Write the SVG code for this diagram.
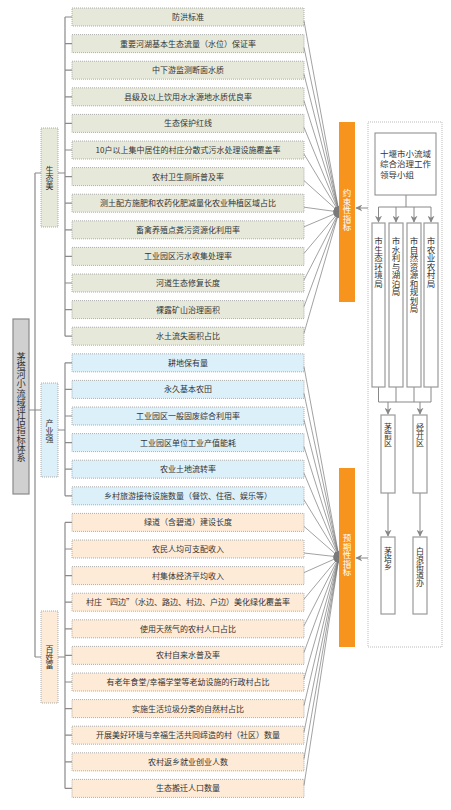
<svg xmlns="http://www.w3.org/2000/svg" width="451" height="810" viewBox="0 0 451 810">
<defs>
<style>
text{font-family:"Noto Sans CJK SC","Liberation Sans",sans-serif;fill:#333;}
.row{font-size:8px;text-anchor:middle;}
.eco{fill:#e6e9d9;stroke:#9a9a9a;stroke-width:0.8;stroke-dasharray:1 1;}
.ind{fill:#dcf0fa;stroke:#9a9a9a;stroke-width:0.8;stroke-dasharray:1 1;}
.wea{fill:#fdebd8;stroke:#9a9a9a;stroke-width:0.8;stroke-dasharray:1 1;}
.br{fill:none;stroke:#8a8a8a;stroke-width:1.2;}
.vt{writing-mode:vertical-rl;text-anchor:middle;}
.vs{writing-mode:vertical-rl;text-anchor:start;}
.con line{stroke:#7a7a7a;stroke-width:0.7;marker-end:url(#ah);}
.org{fill:#f7941d;}
.ow{fill:#fff;font-size:8.5px;}
.bx{fill:#fff;stroke:#9a9a9a;stroke-width:1.2;}
.ar{stroke:#888;stroke-width:1;fill:none;}
.ld{font-size:8.5px;}
</style>
<marker id="ah" viewBox="0 0 10 10" refX="9" refY="5" markerWidth="6" markerHeight="6" markerUnits="userSpaceOnUse" orient="auto"><path d="M0,0 L10,5 L0,10 z" fill="#7a7a7a"/></marker>
<marker id="ab" viewBox="0 0 10 10" refX="9" refY="5" markerWidth="7" markerHeight="7" markerUnits="userSpaceOnUse" orient="auto"><path d="M0,0 L10,5 L0,10 L3,5 z" fill="#888"/></marker>
</defs>
<rect width="451" height="810" fill="#fff"/>

<!-- brackets -->
<g id="brackets">
<path class="br" d="M65,17 V336.2 M65,17 H72 M65,43.6 H72 M65,70.2 H72 M65,96.8 H72 M65,123.4 H72 M65,150 H72 M65,176.6 H72 M65,203.2 H72 M65,229.8 H72 M65,256.4 H72 M65,283 H72 M65,309.6 H72 M65,336.2 H72"/>
<path class="br" d="M65,362.8 V495.8 M65,362.8 H72 M65,389.4 H72 M65,416 H72 M65,442.6 H72 M65,469.2 H72 M65,495.8 H72"/>
<path class="br" d="M65,522.4 V788.4 M65,522.4 H72 M65,549 H72 M65,575.6 H72 M65,602.2 H72 M65,628.8 H72 M65,655.4 H72 M65,682 H72 M65,708.6 H72 M65,735.2 H72 M65,761.8 H72 M65,788.4 H72"/>
<path class="br" d="M58,173 H65 M58,430 H65 M58,657 H65"/>
<path class="br" d="M35,173 V657 M35,173 H41 M29,410 H41 M35,657 H41"/>
</g>

<g id="root"><rect x="13" y="319" width="16" height="175" fill="#d0d0d0" stroke="#8a8a8a" stroke-width="1.2"/><text class="vt" x="21" y="407" font-size="9.2">茅塔河小流域评估指标体系</text></g>
<g id="cat-eco"><rect x="41" y="128" width="17" height="99" class="eco"/><text class="vt" x="49.5" y="178" font-size="8">生态美</text></g>
<g id="cat-ind"><rect x="41" y="383" width="17" height="94" class="ind"/><text class="vt" x="49.5" y="431" font-size="8">产业强</text></g>
<g id="cat-wea"><rect x="41" y="611" width="17" height="92" class="wea"/><text class="vt" x="49.5" y="657" font-size="8">百姓富</text></g>

<g id="r0"><rect class="eco" x="72" y="8" width="232" height="18"/><text class="row" x="188" y="20">防洪标准</text></g>
<g id="r1"><rect class="eco" x="72" y="34.6" width="232" height="18"/><text class="row" x="188" y="46.6">重要河湖基本生态流量（水位）保证率</text></g>
<g id="r2"><rect class="eco" x="72" y="61.2" width="232" height="18"/><text class="row" x="188" y="73.2">中下游监测断面水质</text></g>
<g id="r3"><rect class="eco" x="72" y="87.8" width="232" height="18"/><text class="row" x="188" y="99.8">县级及以上饮用水水源地水质优良率</text></g>
<g id="r4"><rect class="eco" x="72" y="114.4" width="232" height="18"/><text class="row" x="188" y="126.4">生态保护红线</text></g>
<g id="r5"><rect class="eco" x="72" y="141" width="232" height="18"/><text class="row" x="188" y="153">10户以上集中居住的村庄分散式污水处理设施覆盖率</text></g>
<g id="r6"><rect class="eco" x="72" y="167.6" width="232" height="18"/><text class="row" x="188" y="179.6">农村卫生厕所普及率</text></g>
<g id="r7"><rect class="eco" x="72" y="194.2" width="232" height="18"/><text class="row" x="188" y="206.2">测土配方施肥和农药化肥减量化农业种植区域占比</text></g>
<g id="r8"><rect class="eco" x="72" y="220.8" width="232" height="18"/><text class="row" x="188" y="232.8">畜禽养殖点粪污资源化利用率</text></g>
<g id="r9"><rect class="eco" x="72" y="247.4" width="232" height="18"/><text class="row" x="188" y="259.4">工业园区污水收集处理率</text></g>
<g id="r10"><rect class="eco" x="72" y="274" width="232" height="18"/><text class="row" x="188" y="286">河道生态修复长度</text></g>
<g id="r11"><rect class="eco" x="72" y="300.6" width="232" height="18"/><text class="row" x="188" y="312.6">裸露矿山治理面积</text></g>
<g id="r12"><rect class="eco" x="72" y="327.2" width="232" height="18"/><text class="row" x="188" y="339.2">水土流失面积占比</text></g>
<g id="r13"><rect class="ind" x="72" y="353.8" width="232" height="18"/><text class="row" x="188" y="365.8">耕地保有量</text></g>
<g id="r14"><rect class="ind" x="72" y="380.4" width="232" height="18"/><text class="row" x="188" y="392.4">永久基本农田</text></g>
<g id="r15"><rect class="ind" x="72" y="407" width="232" height="18"/><text class="row" x="188" y="419">工业园区一般固废综合利用率</text></g>
<g id="r16"><rect class="ind" x="72" y="433.6" width="232" height="18"/><text class="row" x="188" y="445.6">工业园区单位工业产值能耗</text></g>
<g id="r17"><rect class="ind" x="72" y="460.2" width="232" height="18"/><text class="row" x="188" y="472.2">农业土地流转率</text></g>
<g id="r18"><rect class="ind" x="72" y="486.8" width="232" height="18"/><text class="row" x="188" y="498.8">乡村旅游接待设施数量（餐饮、住宿、娱乐等）</text></g>
<g id="r19"><rect class="wea" x="72" y="513.4" width="232" height="18"/><text class="row" x="188" y="525.4">绿道（含碧道）建设长度</text></g>
<g id="r20"><rect class="wea" x="72" y="540" width="232" height="18"/><text class="row" x="188" y="552">农民人均可支配收入</text></g>
<g id="r21"><rect class="wea" x="72" y="566.6" width="232" height="18"/><text class="row" x="188" y="578.6">村集体经济平均收入</text></g>
<g id="r22"><rect class="wea" x="72" y="593.2" width="232" height="18"/><text class="row" x="188" y="605.2">村庄“四边”（水边、路边、村边、户边）美化绿化覆盖率</text></g>
<g id="r23"><rect class="wea" x="72" y="619.8" width="232" height="18"/><text class="row" x="188" y="631.8">使用天然气的农村人口占比</text></g>
<g id="r24"><rect class="wea" x="72" y="646.4" width="232" height="18"/><text class="row" x="188" y="658.4">农村自来水普及率</text></g>
<g id="r25"><rect class="wea" x="72" y="673" width="232" height="18"/><text class="row" x="188" y="685">有老年食堂/幸福学堂等老幼设施的行政村占比</text></g>
<g id="r26"><rect class="wea" x="72" y="699.6" width="232" height="18"/><text class="row" x="188" y="711.6">实施生活垃圾分类的自然村占比</text></g>
<g id="r27"><rect class="wea" x="72" y="726.2" width="232" height="18"/><text class="row" x="188" y="738.2">开展美好环境与幸福生活共同缔造的村（社区）数量</text></g>
<g id="r28"><rect class="wea" x="72" y="752.8" width="232" height="18"/><text class="row" x="188" y="764.8">农村返乡就业创业人数</text></g>
<g id="r29"><rect class="wea" x="72" y="779.4" width="232" height="18"/><text class="row" x="188" y="791.4">生态搬迁人口数量</text></g>

<g id="connectors" class="con">
<line x1="304" y1="21" x2="339" y2="212"/>
<line x1="304" y1="47.6" x2="339" y2="212"/>
<line x1="304" y1="74.2" x2="339" y2="212"/>
<line x1="304" y1="100.8" x2="339" y2="212"/>
<line x1="304" y1="127.4" x2="339" y2="212"/>
<line x1="304" y1="154" x2="339" y2="212"/>
<line x1="304" y1="180.6" x2="339" y2="212"/>
<line x1="304" y1="207.2" x2="339" y2="212"/>
<line x1="304" y1="226.8" x2="339" y2="212"/>
<line x1="304" y1="253.4" x2="339" y2="212"/>
<line x1="304" y1="280" x2="339" y2="212"/>
<line x1="304" y1="306.6" x2="339" y2="212"/>
<line x1="304" y1="333.2" x2="339" y2="212"/>
<line x1="304" y1="366.8" x2="339" y2="557"/>
<line x1="304" y1="393.4" x2="339" y2="557"/>
<line x1="304" y1="420" x2="339" y2="557"/>
<line x1="304" y1="446.6" x2="339" y2="557"/>
<line x1="304" y1="473.2" x2="339" y2="557"/>
<line x1="304" y1="499.8" x2="339" y2="557"/>
<line x1="304" y1="526.4" x2="339" y2="557"/>
<line x1="304" y1="553" x2="339" y2="557"/>
<line x1="304" y1="572.6" x2="339" y2="557"/>
<line x1="304" y1="599.2" x2="339" y2="557"/>
<line x1="304" y1="625.8" x2="339" y2="557"/>
<line x1="304" y1="652.4" x2="339" y2="557"/>
<line x1="304" y1="679" x2="339" y2="557"/>
<line x1="304" y1="705.6" x2="339" y2="557"/>
<line x1="304" y1="732.2" x2="339" y2="557"/>
<line x1="304" y1="758.8" x2="339" y2="557"/>
<line x1="304" y1="785.4" x2="339" y2="557"/>
</g>

<g id="binding"><rect class="org" x="339" y="122" width="16" height="180"/><text class="vt ow" x="347" y="210">约束性指标</text></g>
<g id="expected"><rect class="org" x="339" y="468" width="16" height="179"/><text class="vt ow" x="347" y="555">预期性指标</text></g>

<g id="container"><rect x="368" y="122" width="74" height="525" fill="#fff" stroke="#aaa" stroke-width="0.8" stroke-dasharray="1 1"/></g>

<g id="org-arrows">
<line class="ar" x1="368" y1="208" x2="356" y2="208" marker-end="url(#ab)"/>
<line class="ar" x1="368" y1="558" x2="356" y2="558" marker-end="url(#ab)"/>
<path class="ar" d="M406,195 V207 M378.5,207 H431"/>
<line class="ar" x1="378.5" y1="207" x2="378.5" y2="222" marker-end="url(#ab)"/>
<line class="ar" x1="396" y1="207" x2="396" y2="222" marker-end="url(#ab)"/>
<line class="ar" x1="414" y1="207" x2="414" y2="222" marker-end="url(#ab)"/>
<line class="ar" x1="431" y1="207" x2="431" y2="222" marker-end="url(#ab)"/>
<path class="ar" d="M378.5,387 V402 M396,387 V402 M414,387 V402 M431,387 V402 M378.5,402 H431"/>
<line class="ar" x1="388" y1="402" x2="388" y2="414" marker-end="url(#ab)"/>
<line class="ar" x1="420" y1="402" x2="420" y2="414" marker-end="url(#ab)"/>
<line class="ar" x1="388" y1="493" x2="388" y2="536" marker-end="url(#ab)"/>
<line class="ar" x1="420" y1="493" x2="420" y2="536" marker-end="url(#ab)"/>
</g>

<g id="leader"><rect x="375" y="133" width="61" height="62" fill="#fff" stroke="#888" stroke-width="1"/>
<text class="ld" x="380" y="156.5">十堰市小流域</text>
<text class="ld" x="380" y="167.2">综合治理工作</text>
<text class="ld" x="380" y="177.9">领导小组</text></g>

<g id="b1"><rect class="bx" x="372" y="223" width="13" height="164"/><text class="vs" x="378.5" y="237" font-size="8.5">市生态环境局</text></g>
<g id="b2"><rect class="bx" x="389" y="223" width="14" height="164"/><text class="vs" x="396" y="237" font-size="8.5">市水利与湖泊局</text></g>
<g id="b3"><rect class="bx" x="407" y="223" width="14" height="164"/><text class="vs" x="414" y="237" font-size="8.5">市自然资源和规划局</text></g>
<g id="b4"><rect class="bx" x="424" y="223" width="14" height="164"/><text class="vs" x="431" y="237" font-size="8.5">市农业农村局</text></g>

<g id="d1"><rect class="bx" x="381" y="415" width="14" height="78"/><text class="vs" x="388" y="423" font-size="8">茅箭区</text></g>
<g id="d2"><rect class="bx" x="413" y="415" width="14" height="78"/><text class="vs" x="420" y="423" font-size="8">经开区</text></g>
<g id="t1"><rect class="bx" x="381" y="537" width="14" height="77"/><text class="vs" x="388" y="547" font-size="8">茅塔乡</text></g>
<g id="t2"><rect class="bx" x="413" y="537" width="14" height="77"/><text class="vs" x="420" y="547" font-size="8">白浪街道办</text></g>
</svg>
